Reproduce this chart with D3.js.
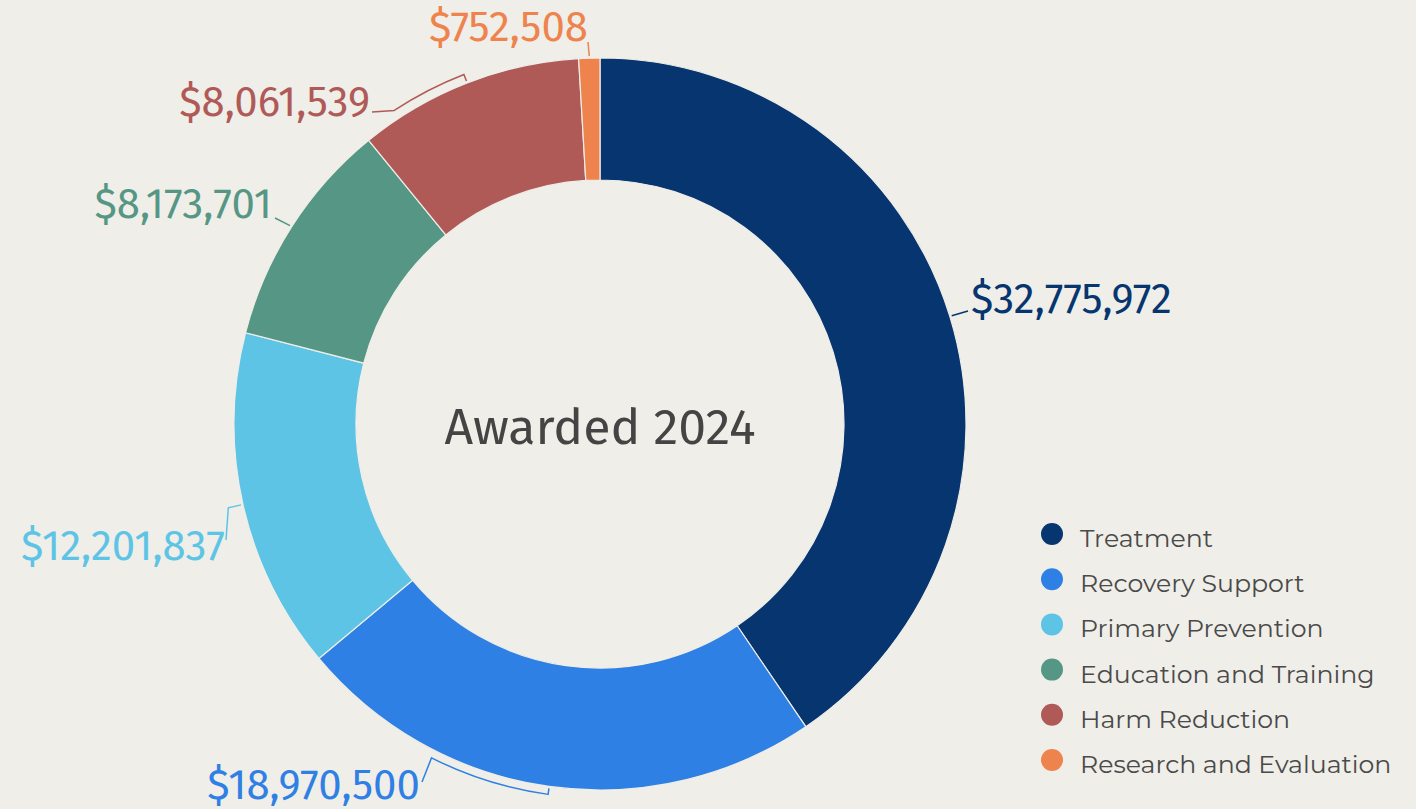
<!DOCTYPE html>
<html>
<head>
<meta charset="utf-8">
<script src="https://cdn.jsdelivr.net/npm/d3@7"></script>
<style>
  html, body { margin: 0; padding: 0; background: #efeee8; }
  svg { display: block; }
  .value-label { font-family: "Fira Sans", "Noto Sans", sans-serif; font-size: 42px; }
  .center-label { font-family: "Fira Sans", "Noto Sans", sans-serif; font-size: 50px; fill: #444; }
  .legend text { font-family: "Montserrat", "Noto Sans", sans-serif; font-size: 25.2px; fill: #4a4a4a; }
</style>
</head>
<body>
<div id="chart"></div>
<script>
const categories = [
  "Treatment",
  "Recovery Support",
  "Primary Prevention",
  "Education and Training",
  "Harm Reduction",
  "Research and Evaluation"
];
const amounts = [32775972, 18970500, 12201837, 8173701, 8061539, 752508];
const colors = ["#06356f", "#2f80e4", "#5ec4e6", "#559784", "#b05a58", "#ee834e"];
const centerTitle = "Awarded 2024";

const width = 1416;
const height = 809;
const cx = 600, cy = 424;
const outerR = 366, innerR = 244;

// label placement: anchor point of text, and leader shape
// via: [angle offset in degrees from slice middle, radius offset] steps; end = where the leader meets the label
const labelLayout = [
  { x: 971, y: 313, anchor: "start", via: [], end: [968, 311] },
  { x: 420, y: 799, anchor: "end", via: [[0, 8], [18.8, 8]], end: [422, 782] },
  { x: 225, y: 560, anchor: "end", via: [[0, 15]], end: [226, 540] },
  { x: 272, y: 218, anchor: "end", via: [], end: [275, 218] },
  { x: 370, y: 116, anchor: "end", via: [[0, 8], [-12, 9]], end: [372, 112] },
  { x: 588, y: 41, anchor: "end", via: [], end: [588, 42] }
];

const fmt = d3.format("$,");

const svg = d3.select("#chart")
  .append("svg")
  .attr("width", width)
  .attr("height", height);

svg.append("rect")
  .attr("width", width)
  .attr("height", height)
  .attr("fill", "#efeee8");

const pie = d3.pie().sort(null).value(d => d);
const arcs = pie(amounts);

const arc = d3.arc().innerRadius(innerR).outerRadius(outerR);

const g = svg.append("g").attr("transform", `translate(${cx},${cy})`);

g.selectAll("path.slice")
  .data(arcs)
  .join("path")
  .attr("class", "slice")
  .attr("d", arc)
  .attr("fill", (d, i) => colors[i])
  .attr("stroke", "#efeee8")
  .attr("stroke-width", 1.2);

// center text
g.append("text")
  .attr("class", "center-label")
  .attr("text-anchor", "middle")
  .attr("y", 20)
  .text(centerTitle);

// polar helper, angle in radians measured clockwise from top
function polar(a, r) {
  return [Math.sin(a) * r, -Math.cos(a) * r];
}

// leader lines
arcs.forEach((d, i) => {
  const lay = labelLayout[i];
  const mid = (d.startAngle + d.endAngle) / 2;
  const p = d3.path();
  const s = polar(mid, outerR + 2);
  p.moveTo(s[0], s[1]);
  let prev = null;
  lay.via.forEach(v => {
    const a = mid + v[0] * Math.PI / 180;
    const r = outerR + v[1];
    if (prev && Math.abs(prev.a - a) > 1e-6) {
      p.arc(0, 0, r, prev.a - Math.PI / 2, a - Math.PI / 2, a < prev.a);
    } else {
      const q = polar(a, r);
      p.lineTo(q[0], q[1]);
    }
    prev = { a, r };
  });
  p.lineTo(lay.end[0] - cx, lay.end[1] - cy);
  g.append("path")
    .attr("d", p.toString())
    .attr("fill", "none")
    .attr("stroke", colors[i])
    .attr("stroke-width", 1.5);
});

// value labels
svg.selectAll("text.value-label")
  .data(arcs)
  .join("text")
  .attr("class", "value-label")
  .attr("x", (d, i) => labelLayout[i].x)
  .attr("y", (d, i) => labelLayout[i].y)
  .attr("text-anchor", (d, i) => labelLayout[i].anchor)
  .attr("fill", (d, i) => colors[i])
  .text(d => fmt(d.data));

// legend
const legend = svg.append("g")
  .attr("class", "legend")
  .attr("transform", "translate(1052,534)");

const rows = legend.selectAll("g")
  .data(categories)
  .join("g")
  .attr("transform", (d, i) => `translate(0,${i * 45.2})`);

rows.append("circle")
  .attr("r", 11)
  .attr("fill", (d, i) => colors[i]);

rows.append("text")
  .attr("x", 28)
  .attr("y", 13)
  .text(d => d);
</script>
</body>
</html>
